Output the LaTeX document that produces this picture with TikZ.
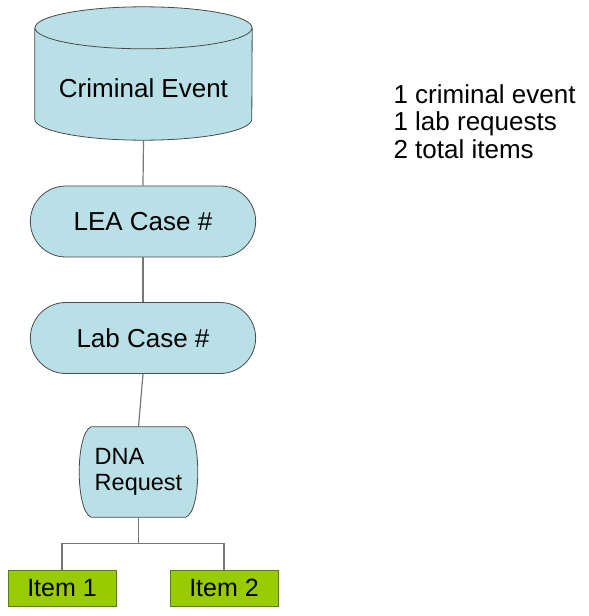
\documentclass[tikz,border=0pt]{standalone}
\usepackage{fontspec}
\setmainfont{Liberation Sans}
\usetikzlibrary{positioning,shapes.misc,backgrounds}
\definecolor{casefill}{HTML}{B9E0E6}
\definecolor{itemfill}{HTML}{99CC00}
\definecolor{itemedge}{HTML}{5E7A1E}
\definecolor{edgegray}{HTML}{4A4A4A}
\definecolor{linkgray}{HTML}{777777}

\begin{document}
\begin{tikzpicture}[x=1pt, y=-1pt,
    event/.style={rectangle, minimum width=217pt, minimum height=91pt},
    outline/.style={fill=casefill, draw=edgegray, thick},
    case/.style={rounded rectangle, outline, minimum width=232pt, minimum height=71pt, font=\fontsize{26}{30}\selectfont},
    request/.style={rectangle, minimum width=93pt, minimum height=90pt, align=left, font=\fontsize{23.5}{26}\selectfont},
    item/.style={rectangle, draw=itemedge, thick, fill=itemfill, minimum width=108pt, minimum height=36pt, font=\fontsize{25}{30}\selectfont},
    link/.style={draw=linkgray, line width=1.2pt}
]
\useasboundingbox (0,0) rectangle (589,616);

\node[event, label={[font=\fontsize{26}{30}\selectfont, yshift=-15pt]center:Criminal Event}] (event) at (143.5,73.5) {};
\node[case]    (lea)   at (143,221.5)  {LEA Case \#};
\node[case]    (lab)   at (143,338)    {Lab Case \#};
\node[request] (dna)   at (138.5,472)  {DNA\\Request};
\node[item]    (item1) at (62,588)     {Item 1};
\node[item]    (item2) at (224,588)    {Item 2};

\node[anchor=north west, align=left, font=\fontsize{26}{27.5}\selectfont] (tally) at (390,81)
    {1 criminal event\\1 lab requests\\2 total items};

\begin{scope}[on background layer]
% cylinder round the event
\draw[outline] (event.north west) -- (event.south west)
    arc[start angle=180, end angle=0, x radius=108.5, y radius=21] -- (event.north east);
\draw[outline] (event.north) ellipse[x radius=108.5, y radius=21];
% bulging outline of the request box
\draw[outline] (dna.north west) -- (dna.north east)
    .. controls +(16,6) and +(16,-6) .. (dna.south east) -- (dna.south west)
    .. controls +(-16,-6) and +(-16,6) .. cycle;
\end{scope}

\draw[link] (event.south) ++(0,21) -- (lea.north);
\draw[link] (lea.south) -- (lab.north);
\draw[link] (lab.south) -- (dna.north);
\draw[link] (dna.south) -- ++(0,26) -| (item1.north);
\draw[link] (dna.south) -- ++(0,26) -| (item2.north);
\end{tikzpicture}
\end{document}
